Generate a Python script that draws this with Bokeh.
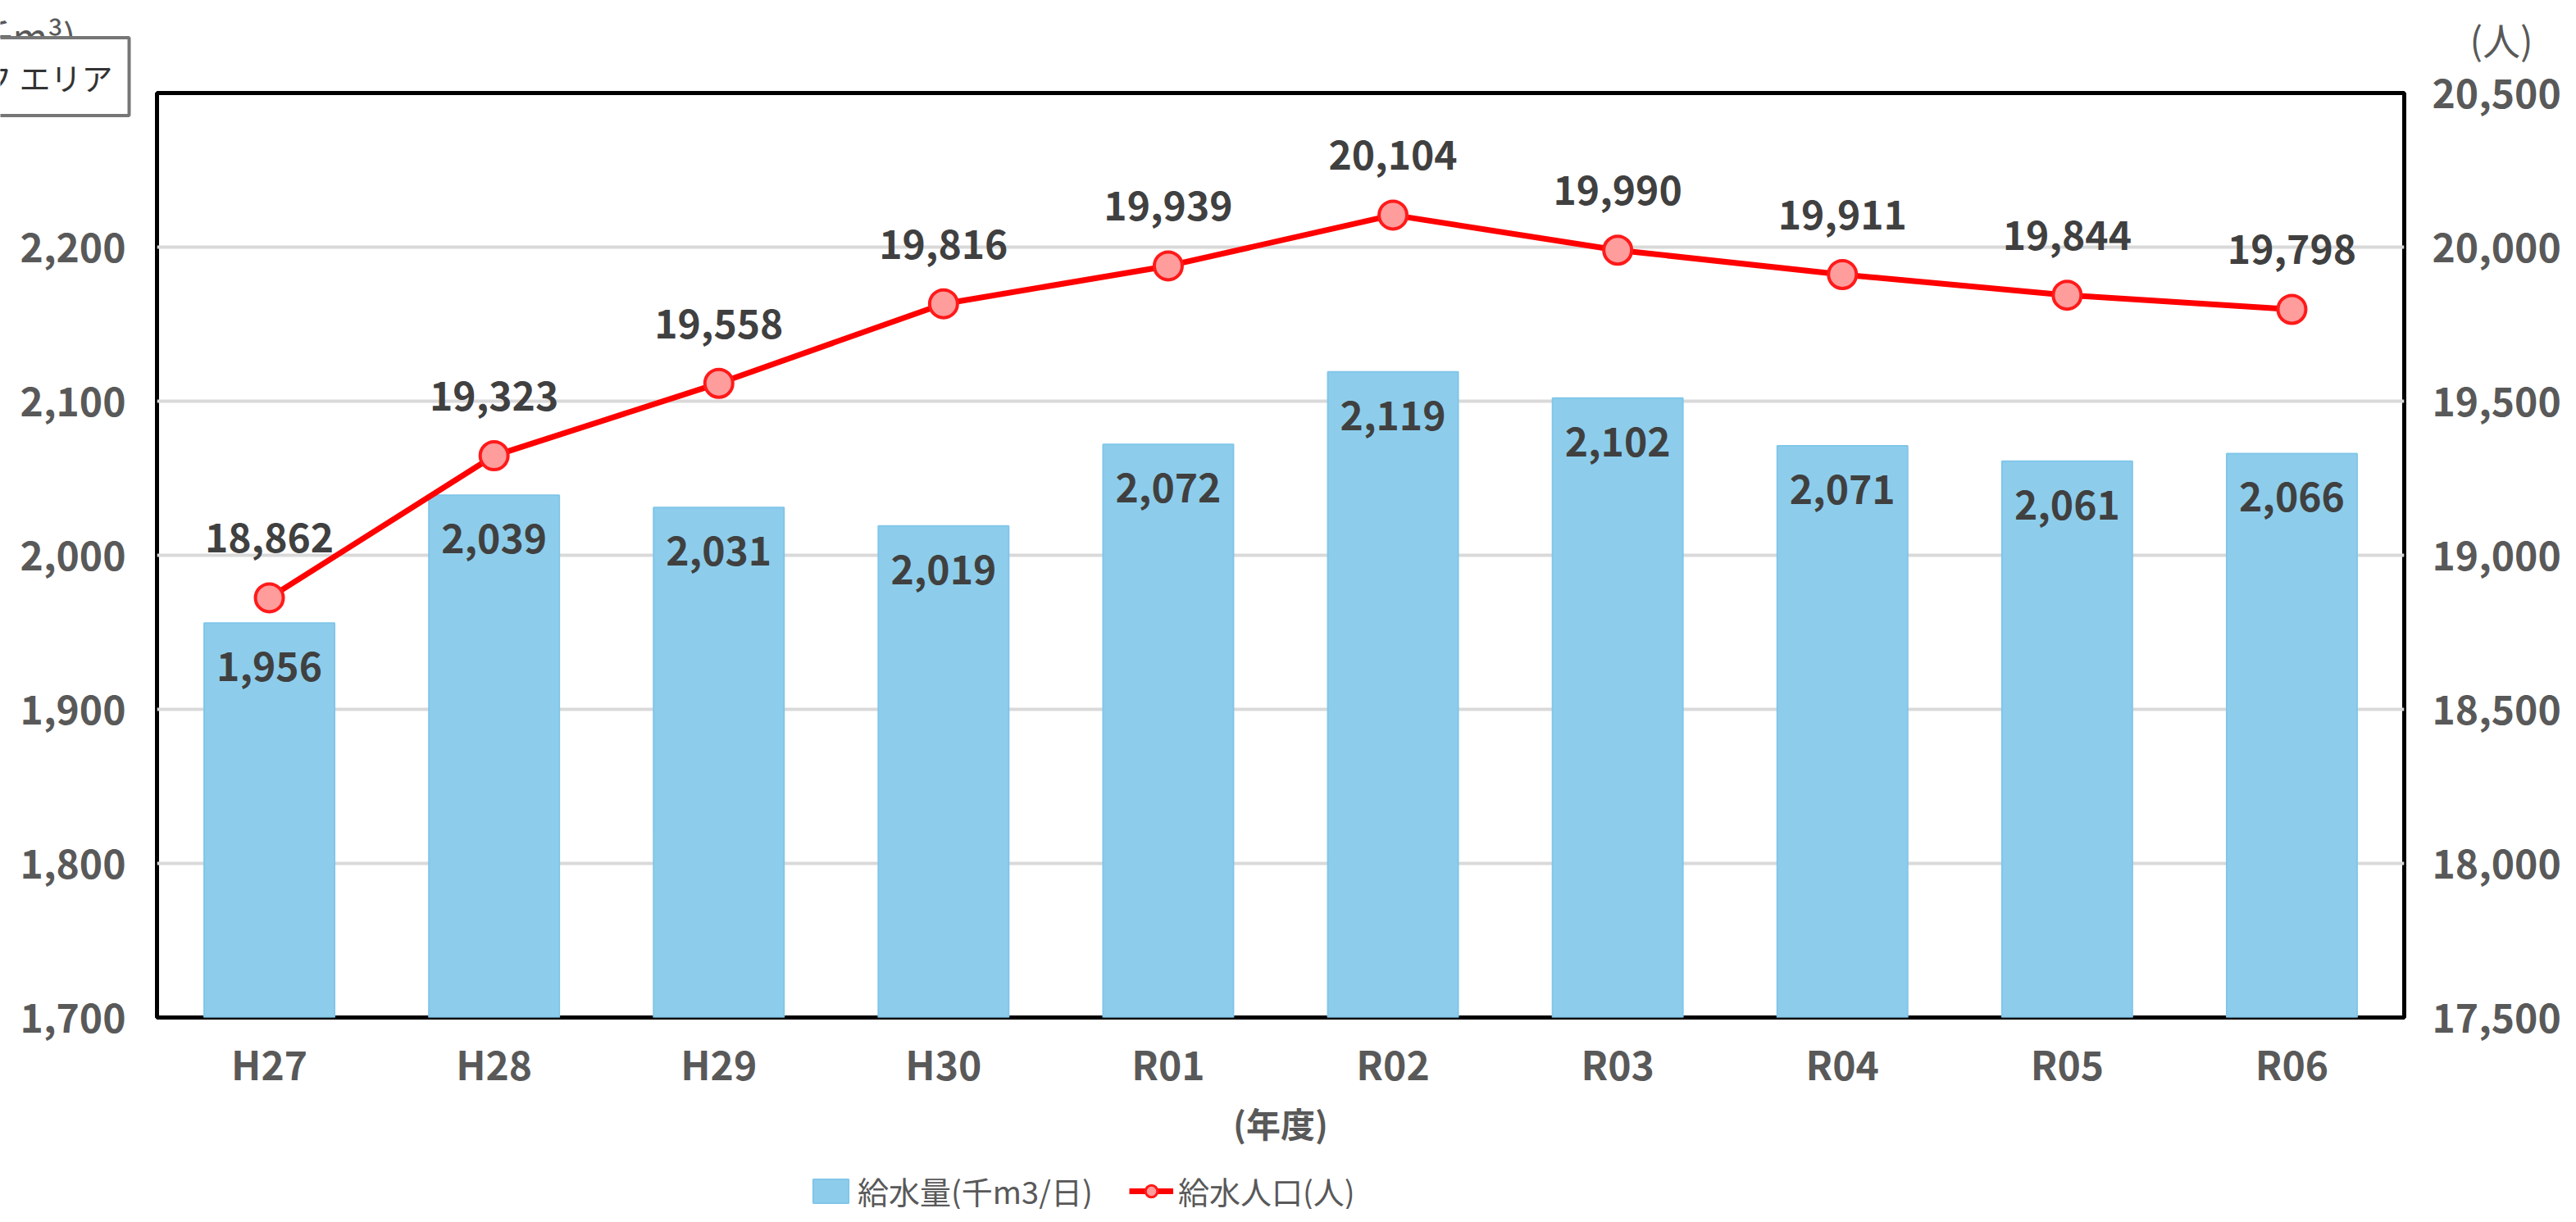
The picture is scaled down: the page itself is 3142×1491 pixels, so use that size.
from bokeh.plotting import figure
from bokeh.layouts import column
from bokeh.models import (ColumnDataSource, Range1d, LinearAxis, FixedTicker,
                          NumeralTickFormatter, LabelSet, Label, Legend, LegendItem, FactorRange)
from bokeh.core.properties import value
from bokeh.embed import file_html
from bokeh.resources import INLINE

# ---- data ----
years = ["H27", "H28", "H29", "H30", "R01", "R02", "R03", "R04", "R05", "R06"]
supply = [1956, 2039, 2031, 2019, 2072, 2119, 2102, 2071, 2061, 2066]          # 給水量(千m3/日)
population = [18862, 19323, 19558, 19816, 19939, 20104, 19990, 19911, 19844, 19798]  # 給水人口(人)
left_ticks = [1700, 1800, 1900, 2000, 2100, 2200, 2300]
right_ticks = [17500, 18000, 18500, 19000, 19500, 20000, 20500]
grid_ticks = [1800, 1900, 2000, 2100, 2200]

FONT = "Noto Sans CJK JP"
TICK_COLOR = "#595959"
LABEL_COLOR = "#404040"
BAR_FILL, BAR_LINE = "#8dcdeb", "#80c6e9"
LINE_COLOR, MARK_FILL, MARK_LINE = "#ff0000", "#ff9c9c", "#ff1a1a"
NAN = float("nan")

src = ColumnDataSource(dict(
    x=years, supply=supply, pop=population,
    supply_txt=[f"{v:,}" for v in supply],
    pop_txt=[f"{v:,}" for v in population],
))

W, H = 3126, 1475

# ================= main chart =================
p = figure(x_range=FactorRange(factors=years), y_range=Range1d(left_ticks[0], left_ticks[-1]),
           width=W, height=H, output_backend="svg", toolbar_location=None,
           min_border_left=191, min_border_right=186, min_border_top=113, min_border_bottom=234)
p.extra_y_ranges = {"pop": Range1d(right_ticks[0], right_ticks[-1])}

p.background_fill_color = "white"
p.border_fill_color = "white"
p.outline_line_color = "black"
p.outline_line_width = 5

p.xgrid.grid_line_color = None
p.ygrid.ticker = FixedTicker(ticks=grid_ticks)
p.ygrid.grid_line_color = "#d9d9d9"
p.ygrid.grid_line_width = 4

p.vbar(x="x", top="supply", bottom=left_ticks[0], width=0.58, source=src,
       fill_color=BAR_FILL, line_color=BAR_LINE, line_width=2)
p.line(x="x", y="pop", source=src, y_range_name="pop", line_color=LINE_COLOR, line_width=7)
p.scatter(x="x", y="pop", source=src, y_range_name="pop", size=34,
          fill_color=MARK_FILL, line_color=MARK_LINE, line_width=4)

def style_axis(ax, standoff):
    ax.axis_line_color = None
    ax.major_tick_line_color = None
    ax.minor_tick_line_color = None
    ax.major_tick_out = 0
    ax.major_tick_in = 0
    ax.major_label_standoff = standoff
    ax.major_label_text_font = FONT
    ax.major_label_text_font_size = "48px"
    ax.major_label_text_font_style = "bold"
    ax.major_label_text_color = TICK_COLOR

yl = p.yaxis[0]
yl.ticker = FixedTicker(ticks=left_ticks)
yl.formatter = NumeralTickFormatter(format="0,0")
style_axis(yl, 38)

yr = LinearAxis(y_range_name="pop", ticker=FixedTicker(ticks=right_ticks),
                formatter=NumeralTickFormatter(format="0,0"))
style_axis(yr, 34)
p.add_layout(yr, "right")

xa = p.xaxis[0]
style_axis(xa, 20)
xa.axis_label = "(年度)"
xa.axis_label_text_font = FONT
xa.axis_label_text_font_size = "42px"
xa.axis_label_text_font_style = "bold"
xa.axis_label_text_color = TICK_COLOR
xa.axis_label_standoff = 4

p.add_layout(LabelSet(x="x", y="supply", text="supply_txt", source=src,
                      y_offset=-53, text_align="center", text_baseline="middle",
                      text_font=value(FONT), text_font_size="48px", text_font_style="bold",
                      text_color=LABEL_COLOR))
p.add_layout(LabelSet(x="x", y="pop", text="pop_txt", source=src, y_range_name="pop",
                      y_offset=73, text_align="center", text_baseline="middle",
                      text_font=value(FONT), text_font_size="48px", text_font_style="bold",
                      text_color=LABEL_COLOR))

# ================= transparent overlay (texts outside the plot area) =================
ov = figure(width=W, height=H, x_range=Range1d(0, W), y_range=Range1d(0, H),
            output_backend="svg", toolbar_location=None, min_border=0,
            x_axis_location=None, y_axis_location=None)
ov.background_fill_alpha = 0
ov.border_fill_alpha = 0
ov.outline_line_color = None
ov.xgrid.visible = False
ov.ygrid.visible = False
ov.margin = (-H, 0, 0, 0)

# do not let the column align the two plot frames
for fig in (p, ov):
    try:
        fig.frame_align = False
    except Exception:
        pass

def lab(text, x, y, size, color, align="left", weight="normal", **kw):
    ov.add_layout(Label(x=x, y=H - y, x_units="screen", y_units="screen", text=text,
                        text_align=align, text_baseline="middle", text_font=FONT,
                        text_font_size=size, text_font_style=weight, text_color=color, **kw))

# unit labels
lab("(千m³)", 92, 42, "46px", TICK_COLOR, align="right")
lab("(人)", 3012, 46, "46px", TICK_COLOR)

# "グラフ エリア" tooltip box (partly off the left edge) with a soft shadow
TT_RIGHT, TT_CY, TT_PAD = 157, 93, 20
for off, col in [(20, "#efefef"), (15, "#d6d6d6"), (10, "#b8b8b8"), (5, "#8e8e8e")]:
    lab("グラフ エリア", TT_RIGHT + off, TT_CY + off, "38px", col, align="right",
        text_alpha=0.0, background_fill_color=col, padding=TT_PAD)
lab("グラフ エリア", TT_RIGHT, TT_CY, "38px", "#333333", align="right",
    background_fill_color="white", border_line_color="#767676", border_line_width=4,
    padding=TT_PAD)

# legend handles (styled like the chart's series; no visible data)
lg_bar = ov.vbar(x=[NAN], top=[NAN], width=1, fill_color=BAR_FILL, line_color=BAR_LINE, line_width=2)
lg_line = ov.line(x=[NAN], y=[NAN], line_color=LINE_COLOR, line_width=7)
lg_pts = ov.scatter(x=[NAN], y=[NAN], size=20, fill_color=MARK_FILL, line_color=MARK_LINE, line_width=3)
legend = Legend(items=[LegendItem(label="給水量(千m3/日)", renderers=[lg_bar]),
                       LegendItem(label="給水人口(人)", renderers=[lg_line, lg_pts])],
                orientation="horizontal", location=(986, -5),
                glyph_width=54, glyph_height=36, label_text_font=FONT,
                label_text_font_size="38px", label_text_color=TICK_COLOR,
                label_standoff=6, spacing=44, padding=0, margin=0,
                border_line_color=None, background_fill_alpha=0)
ov.add_layout(legend, "center")

page = column(p, ov, spacing=0)
open("out.html", "w").write(file_html(page, INLINE))
